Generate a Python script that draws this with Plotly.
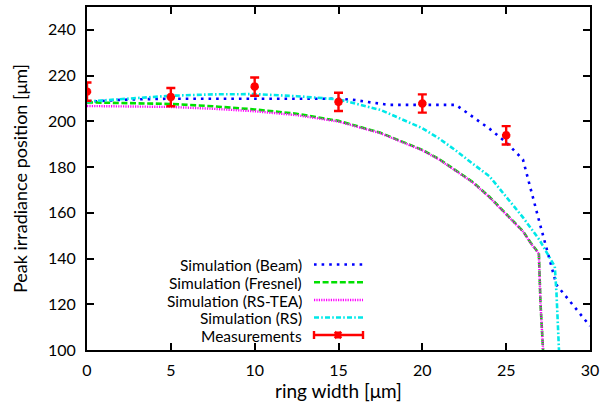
import plotly.graph_objects as go

# ---- data -----------------------------------------------------------------
beam_x = [0, 1, 2, 3, 4, 5, 15, 16, 17, 18, 22, 23, 24, 25, 26, 27, 28, 29, 30]
beam_y = [208.5, 209.0, 209.4, 209.6, 209.8, 209.9, 209.9, 209.3, 208.2, 207.2,
          207.2, 202.0, 196.8, 190.8, 183.3, 155.5, 128.5, 119.5, 110.5]

fresnel_x = [0, 2.5, 5, 7.5, 10, 12.5, 15, 17.5, 20, 21, 22, 23, 24, 25, 26,
             26.5, 26.95, 27.05, 27.2]
fresnel_y = [208.3, 208.0, 207.6, 206.6, 205.2, 203.3, 200.2, 195.0, 187.5,
             183.5, 178.5, 173.5, 167.0, 159.5, 152.0, 146.5, 142.3, 120.0, 100.0]

rstea_x = fresnel_x
rstea_y = [206.7, 206.5, 206.3, 205.5, 204.4, 202.7, 199.9, 194.8, 187.3,
           183.3, 178.3, 173.3, 166.8, 159.3, 151.8, 146.3, 142.1, 120.0, 100.0]

rs_x = [0, 2.5, 5, 7.5, 10, 12.5, 15, 17.5, 20, 21, 22, 23, 24, 25, 26, 27,
        27.9, 28.0, 28.15]
rs_y = [208.7, 210.0, 211.2, 211.8, 211.9, 211.0, 209.6, 205.0, 197.0, 192.5,
        187.2, 181.5, 176.0, 167.0, 158.0, 148.0, 136.5, 125.0, 100.0]

meas_x = [0, 5, 10, 15, 20, 25]
meas_y = [213.0, 210.6, 215.2, 208.5, 207.8, 193.9]
meas_err = [4, 4, 4, 4, 4, 4]

x_ticks = [0, 5, 10, 15, 20, 25, 30]
y_ticks = [100, 120, 140, 160, 180, 200, 220, 240]

series_names = ["Simulation (Beam)", "Simulation (Fresnel)",
                "Simulation (RS-TEA)", "Simulation (RS)", "Measurements"]

# ---- styles ---------------------------------------------------------------
FONT = "Lato"
BLUE, GREEN, MAGENTA, CYAN, RED = "#0000ff", "#00e000", "#ff00ff", "#00e8e8", "#ff0000"
styles = [
    dict(color=BLUE, width=2.6, dash="2.6px,5px"),
    dict(color=GREEN, width=2.6, dash="6px,2.6px"),
    dict(color=MAGENTA, width=2.4, dash="1.2px,1.2px"),
    dict(color=CYAN, width=2.6, dash="5px,2.2px,1.6px,2.2px"),
]
meas_marker = dict(symbol="asterisk-open", size=7, color=RED,
                   line=dict(color=RED, width=2.8))

fig = go.Figure()

for (xs, ys), st, name in zip(
        [(beam_x, beam_y), (fresnel_x, fresnel_y), (rstea_x, rstea_y), (rs_x, rs_y)],
        styles, series_names[:4]):
    fig.add_trace(go.Scatter(x=xs, y=ys, mode="lines", name=name, line=st,
                             showlegend=False))

fig.add_trace(go.Scatter(
    x=meas_x, y=meas_y, mode="markers", name=series_names[4], showlegend=False,
    marker=meas_marker,
    error_y=dict(type="data", array=meas_err, color=RED, thickness=2.4, width=4.5),
))

# ---- key: text on the left, sample on the right (paper coords from pixels) -
W, H = 601, 407
L, R, T, B = 87, 590, 7, 350


def px(x):
    return (x - L) / (R - L)


def py(y):
    return (B - y) / (B - T)


key_rows = [264.5, 282.3, 300.0, 317.5, 335.0]
key_text_right = 303
key_x0, key_x1 = 314, 363

for i, name in enumerate(series_names):
    fig.add_annotation(x=px(key_text_right), y=py(key_rows[i]), xref="paper",
                       yref="paper", text=name, showarrow=False,
                       xanchor="right", yanchor="middle", height=17,
                       valign="middle", borderpad=0,
                       font=dict(family=FONT, size=15.5, color="black"))
for i, st in enumerate(styles):
    fig.add_shape(type="line", xref="paper", yref="paper",
                  x0=px(key_x0), x1=px(key_x1), y0=py(key_rows[i]),
                  y1=py(key_rows[i]), line=st)

ky = key_rows[4]
kc = (key_x0 + key_x1) / 2 - 0.5
red_line = dict(color=RED, width=2.4)
fig.add_shape(type="line", xref="paper", yref="paper", x0=px(key_x0),
              x1=px(key_x1), y0=py(ky), y1=py(ky), line=red_line)
for xc in (key_x0, key_x1):
    fig.add_shape(type="line", xref="paper", yref="paper", x0=px(xc),
                  x1=px(xc), y0=py(ky - 4), y1=py(ky + 4), line=red_line)
# asterisk symbol of the key
star = dict(color=RED, width=2.8)
for dx, dy in [(0, 3.5), (3.5, 0), (3.2, 3.2), (3.2, -3.2)]:
    fig.add_shape(type="line", xref="paper", yref="paper",
                  x0=px(kc - dx), x1=px(kc + dx),
                  y0=py(ky - dy), y1=py(ky + dy), line=star)

axis_common = dict(showline=True, linecolor="black", linewidth=2,
                   mirror="ticks", ticks="inside", ticklen=7, tickwidth=1.5,
                   tickcolor="black", showgrid=False, zeroline=False,
                   automargin=False,
                   tickfont=dict(family=FONT, size=16, color="black"))

fig.update_layout(
    width=W, height=H,
    margin=dict(l=L, r=W - R, t=T, b=H - B),
    paper_bgcolor="white", plot_bgcolor="white",
    showlegend=False,
    xaxis=dict(range=[0, 30], tickvals=x_ticks, ticklabelstandoff=5,
               title=dict(text="ring width [μm]", standoff=4,
                          font=dict(family=FONT, size=19, color="black")),
               **axis_common),
    yaxis=dict(range=[100, 250], tickvals=y_ticks, ticklabelstandoff=6,
               title=dict(text="Peak irradiance position [μm]", standoff=16,
                          font=dict(family=FONT, size=18, color="black")),
               **axis_common),
)

fig.write_html("out.html")
